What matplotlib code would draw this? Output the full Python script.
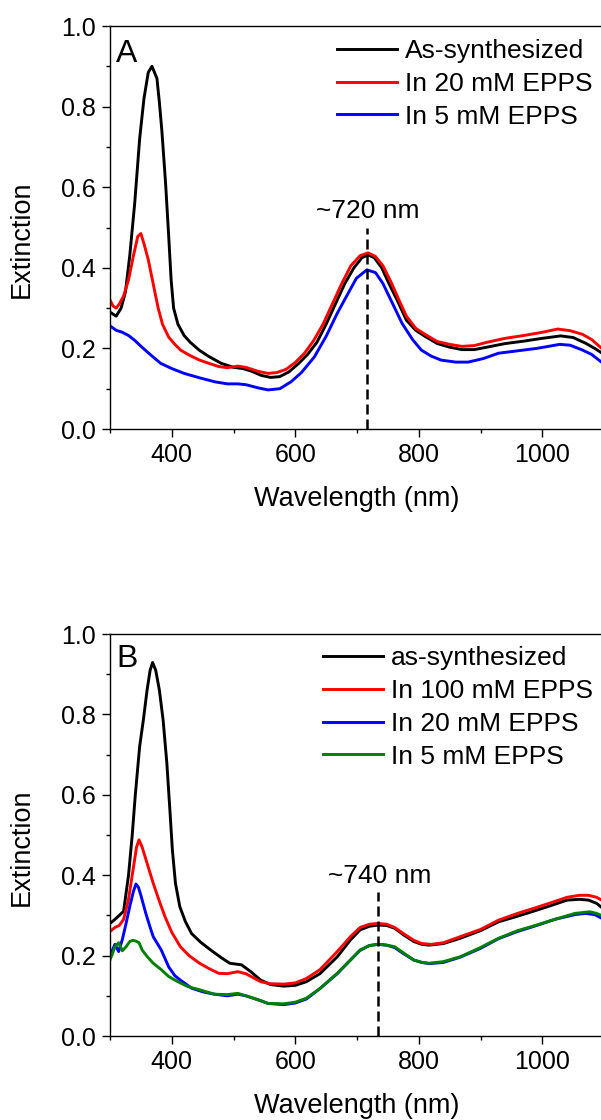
import matplotlib
matplotlib.use("Agg")
import matplotlib.pyplot as plt
from matplotlib.ticker import MultipleLocator

plt.rcParams['font.family'] = ['Liberation Sans', 'DejaVu Sans']

# ---- panel A data ----
wl_a_syn = [300, 305, 310, 318, 325, 332, 340, 348, 355, 362, 368, 376, 380, 384, 390,
            395, 399, 403, 410, 420, 430, 445, 460, 480, 500, 515, 530, 545, 560, 575,
            590, 605, 620, 635, 650, 665, 680, 695, 708, 718, 728, 740, 752, 765, 780,
            795, 810, 830, 850, 870, 890, 910, 940, 970, 1000, 1030, 1050, 1070, 1085, 1100]
ext_a_syn = [0.29, 0.285, 0.28, 0.30, 0.34, 0.43, 0.56, 0.72, 0.82, 0.885, 0.90, 0.87, 0.81, 0.74, 0.61,
             0.48, 0.37, 0.30, 0.26, 0.232, 0.215, 0.195, 0.18, 0.163, 0.153, 0.150, 0.143, 0.133, 0.128, 0.13,
             0.142, 0.162, 0.185, 0.215, 0.26, 0.31, 0.36, 0.40, 0.425, 0.432, 0.425, 0.40, 0.36, 0.32, 0.27,
             0.245, 0.23, 0.212, 0.203, 0.197, 0.197, 0.203, 0.212, 0.218, 0.225, 0.231, 0.227, 0.213, 0.2, 0.185]

wl_a_20 = [300, 305, 310, 315, 322, 330, 338, 345, 350, 355, 362, 370, 378, 385, 395,
           405, 415, 430, 445, 460, 476, 490, 507, 520, 540, 556, 570, 585, 600, 615,
           630, 645, 660, 675, 690, 705, 718, 730, 742, 755, 768, 780, 795, 810, 830,
           850, 870, 890, 910, 940, 970, 1000, 1025, 1045, 1065, 1080, 1100]
ext_a_20 = [0.32, 0.305, 0.30, 0.31, 0.33, 0.37, 0.43, 0.478, 0.485, 0.46, 0.42, 0.36, 0.30, 0.26, 0.228,
            0.21, 0.195, 0.182, 0.171, 0.163, 0.155, 0.152, 0.156, 0.153, 0.143, 0.138, 0.14, 0.148, 0.165, 0.188,
            0.22, 0.26, 0.31, 0.36, 0.405, 0.43, 0.437, 0.428, 0.405, 0.365, 0.32, 0.28, 0.25, 0.235, 0.217,
            0.21, 0.205, 0.207, 0.215, 0.225, 0.232, 0.24, 0.248, 0.244, 0.235, 0.222, 0.195]

wl_a_5 = [300, 310, 320, 330, 340, 351, 365, 382, 400, 420, 445, 470, 490, 507, 520,
          540, 556, 575, 593, 610, 631, 650, 668, 685, 699, 716, 730, 742, 758, 773,
          790, 804, 820, 836, 860, 880, 905, 929, 960, 991, 1010, 1028, 1045, 1065, 1080,
          1095, 1100]
ext_a_5 = [0.256, 0.245, 0.24, 0.232, 0.22, 0.204, 0.185, 0.163, 0.15, 0.138, 0.127, 0.117, 0.112, 0.112, 0.11,
           0.102, 0.097, 0.100, 0.117, 0.14, 0.179, 0.23, 0.287, 0.335, 0.374, 0.395, 0.388, 0.361, 0.31, 0.262,
           0.222, 0.196, 0.181, 0.171, 0.166, 0.166, 0.175, 0.188, 0.194, 0.2, 0.205, 0.21, 0.208, 0.196, 0.185,
           0.167, 0.162]

labels_a = ['As-synthesized', 'In 20 mM EPPS', 'In 5 mM EPPS']

# ---- panel B data ----
wl_b_syn = [300, 308, 315, 322, 330, 336, 341, 348, 354, 360, 365, 369, 374, 380, 386,
            392, 397, 401, 406, 413, 422, 432, 447, 463, 480, 494, 513, 528, 544, 560,
            581, 600, 618, 640, 668, 690, 705, 720, 734, 748, 761, 775, 792, 805, 817,
            840, 867, 900, 929, 960, 991, 1015, 1040, 1060, 1075, 1088, 1100]
ext_b_syn = [0.28, 0.29, 0.30, 0.31, 0.40, 0.50, 0.60, 0.72, 0.786, 0.86, 0.91, 0.929, 0.91, 0.86, 0.786,
             0.68, 0.562, 0.463, 0.38, 0.322, 0.285, 0.255, 0.233, 0.214, 0.195, 0.181, 0.177, 0.16, 0.139, 0.128,
             0.124, 0.126, 0.135, 0.155, 0.197, 0.24, 0.264, 0.273, 0.276, 0.275, 0.268, 0.252, 0.235, 0.228, 0.226,
             0.23, 0.243, 0.262, 0.284, 0.298, 0.313, 0.325, 0.338, 0.34, 0.338, 0.33, 0.315]

wl_b_100 = [300, 308, 315, 322, 330, 338, 343, 347, 352, 360, 370, 380, 389, 400, 414,
            428, 445, 460, 476, 490, 507, 520, 544, 560, 581, 600, 618, 640, 668, 690,
            705, 720, 734, 748, 761, 775, 792, 805, 820, 840, 867, 900, 929, 960, 991,
            1015, 1040, 1060, 1075, 1088, 1100]
ext_b_100 = [0.26, 0.27, 0.275, 0.29, 0.34, 0.42, 0.47, 0.488, 0.47, 0.43, 0.38, 0.335, 0.297, 0.258, 0.222,
             0.2, 0.181, 0.168, 0.156, 0.155, 0.16, 0.155, 0.135, 0.13, 0.129, 0.132, 0.143, 0.165, 0.21, 0.248,
             0.27, 0.278, 0.28, 0.278, 0.27, 0.255, 0.238, 0.23, 0.228, 0.232, 0.247, 0.265, 0.288, 0.305, 0.32,
             0.332, 0.345, 0.35, 0.35, 0.345, 0.335]

wl_b_20 = [300, 308, 314, 320, 326, 332, 338, 342, 346, 350, 358, 364, 370, 383, 395,
           405, 414, 432, 450, 469, 490, 507, 520, 540, 556, 581, 600, 618, 640, 668,
           690, 705, 720, 734, 748, 761, 775, 792, 805, 817, 840, 867, 900, 929, 960,
           991, 1020, 1053, 1070, 1085, 1100]
ext_b_20 = [0.2, 0.228, 0.21, 0.24, 0.28, 0.322, 0.36, 0.378, 0.37, 0.35, 0.305, 0.275, 0.247, 0.214, 0.172,
            0.15, 0.139, 0.119, 0.11, 0.104, 0.1, 0.104, 0.1, 0.09, 0.081, 0.078, 0.082, 0.092, 0.118, 0.155,
            0.19, 0.213, 0.225, 0.228, 0.226, 0.22, 0.205, 0.189, 0.183, 0.18, 0.183, 0.196, 0.218, 0.242, 0.26,
            0.275, 0.29, 0.302, 0.305, 0.302, 0.29]

wl_b_5 = [300, 304, 308, 314, 320, 326, 332, 337, 342, 347, 352, 360, 370, 383, 395,
          410, 426, 445, 469, 490, 507, 520, 540, 556, 581, 600, 618, 640, 668, 690,
          705, 720, 734, 748, 761, 775, 792, 805, 817, 840, 867, 900, 929, 960, 991,
          1020, 1053, 1077, 1088, 1100]
ext_b_5 = [0.189, 0.205, 0.222, 0.232, 0.212, 0.222, 0.235, 0.238, 0.236, 0.232, 0.214, 0.198, 0.181, 0.165, 0.148,
           0.135, 0.123, 0.115, 0.104, 0.103, 0.106, 0.1, 0.09, 0.081, 0.08, 0.084, 0.094, 0.118, 0.156, 0.19,
           0.214, 0.225, 0.228, 0.226, 0.222, 0.207, 0.189, 0.183, 0.181, 0.185, 0.197, 0.22, 0.243, 0.262, 0.276,
           0.29, 0.305, 0.309, 0.305, 0.297]

labels_b = ['as-synthesized', 'In 100 mM EPPS', 'In 20 mM EPPS', 'In 5 mM EPPS']

TEXT_SIZE = 19


def style_axes(ax):
    ax.set_xlim(300, 1100)
    ax.set_ylim(0.0, 1.0)
    ax.xaxis.set_major_locator(MultipleLocator(200))
    ax.xaxis.set_minor_locator(MultipleLocator(100))
    ax.yaxis.set_major_locator(MultipleLocator(0.2))
    ax.yaxis.set_minor_locator(MultipleLocator(0.1))
    ax.yaxis.set_major_formatter(plt.FormatStrFormatter('%.1f'))
    ax.tick_params(which='major', direction='out', length=6, width=1.0, labelsize=18, pad=4)
    ax.tick_params(which='minor', direction='out', length=3, width=1.0)
    for s in ax.spines.values():
        s.set_linewidth(1.0)
    ax.set_xlabel('Wavelength (nm)', fontsize=19.5)
    ax.set_ylabel('Extinction', fontsize=19.5)
    ax.xaxis.set_label_coords(0.5, -0.142)
    ax.yaxis.set_label_coords(-0.152, 0.47)


fig = plt.figure(figsize=(6.01, 11.2), dpi=100)
ax_a = fig.add_axes([110 / 601, 1 - 429 / 1120, 494 / 601, 403 / 1120])
ax_b = fig.add_axes([110 / 601, 1 - 1036 / 1120, 494 / 601, 402 / 1120])

lw = 2.1
ax_a.plot(wl_a_syn, ext_a_syn, color='black', lw=lw, label=labels_a[0])
ax_a.plot(wl_a_20, ext_a_20, color='red', lw=lw, label=labels_a[1])
ax_a.plot(wl_a_5, ext_a_5, color='blue', lw=lw, label=labels_a[2])
ax_a.plot([717, 717], [0, 0.5], color='black', lw=1.8, ls=(0, (4, 2)))
ax_a.text(717, 0.524, '~720 nm', ha='center', va='baseline', fontsize=TEXT_SIZE)
ax_a.text(0.012, 0.911, 'A', transform=ax_a.transAxes, fontsize=23, va='baseline', ha='left')
style_axes(ax_a)
ax_a.legend(loc='upper left', bbox_to_anchor=(0.459, 0.967), frameon=False, fontsize=TEXT_SIZE,
            handlelength=2.3, handletextpad=0.27, labelspacing=0.33, borderpad=0, borderaxespad=0)

ax_b.plot(wl_b_syn, ext_b_syn, color='black', lw=lw, label=labels_b[0])
ax_b.plot(wl_b_100, ext_b_100, color='red', lw=lw, label=labels_b[1])
ax_b.plot(wl_b_20, ext_b_20, color='blue', lw=lw, label=labels_b[2])
ax_b.plot(wl_b_5, ext_b_5, color='#008000', lw=lw, label=labels_b[3])
ax_b.plot([734, 734], [0, 0.359], color='black', lw=1.8, ls=(0, (4, 2)))
ax_b.text(736, 0.38, '~740 nm', ha='center', va='baseline', fontsize=TEXT_SIZE)
ax_b.text(0.012, 0.919, 'B', transform=ax_b.transAxes, fontsize=23, va='baseline', ha='left')
style_axes(ax_b)
ax_b.legend(loc='upper left', bbox_to_anchor=(0.4306, 0.969), frameon=False, fontsize=TEXT_SIZE,
            handlelength=2.3, handletextpad=0.27, labelspacing=0.33, borderpad=0, borderaxespad=0)

fig.savefig('out.png', dpi=100)
